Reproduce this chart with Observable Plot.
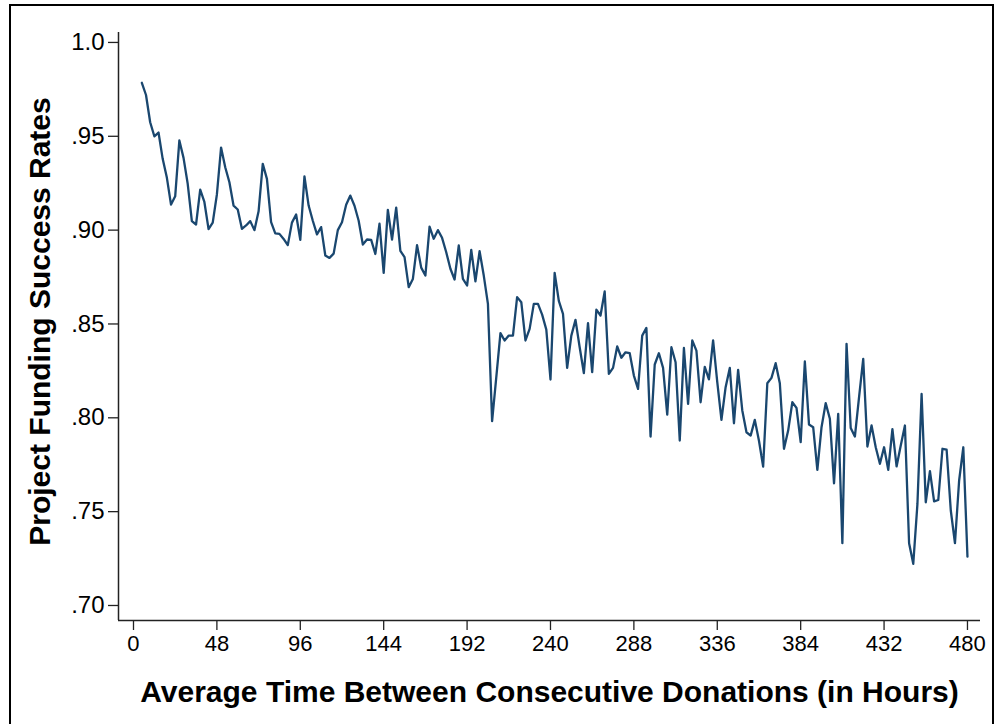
<!DOCTYPE html>
<html>
<head>
<meta charset="utf-8">
<script src="https://cdn.jsdelivr.net/npm/d3@7"></script>
<script src="https://cdn.jsdelivr.net/npm/@observablehq/plot@0.6"></script>
<style>
  html, body { margin: 0; padding: 0; background: #fff; }
  #wrap { position: relative; width: 995px; height: 724px; overflow: hidden; }
  #frame { position: absolute; left: 9px; top: 4px; width: 985px; height: 760px; border: 2px solid #000; box-sizing: border-box; }
  #chart { position: absolute; left: 0; top: 0; }
</style>
</head>
<body>
<div id="wrap"><div id="frame"></div><div id="chart"></div></div>
<script>
const hours = [
  4.8,7.2,9.6,12,14.4,16.8,19.2,21.6,24,
  26.4,28.8,31.2,33.6,36,38.4,40.8,43.2,45.6,48,
  50.4,52.8,55.2,57.6,60,62.4,64.8,67.2,69.6,72,
  74.4,76.8,79.2,81.6,84,86.4,88.8,91.2,93.6,96,
  98.4,100.8,103.2,105.6,108,110.4,112.8,115.2,117.6,120,
  122.4,124.8,127.2,129.6,132,134.4,136.8,139.2,141.6,144,
  146.4,148.8,151.2,153.6,156,158.4,160.8,163.2,165.6,168,
  170.4,172.8,175.2,177.6,180,182.4,184.8,187.2,189.6,192,
  194.4,196.8,199.2,201.6,204,206.4,208.8,211.2,213.6,216,
  218.4,220.8,223.2,225.6,228,230.4,232.8,235.2,237.6,240,
  242.4,244.8,247.2,249.6,252,254.4,256.8,259.2,261.6,264,
  266.4,268.8,271.2,273.6,276,278.4,280.8,283.2,285.6,288,
  290.4,292.8,295.2,297.6,300,302.4,304.8,307.2,309.6,312,
  314.4,316.8,319.2,321.6,324,326.4,328.8,331.2,333.6,336,
  338.4,340.8,343.2,345.6,348,350.4,352.8,355.2,357.6,360,
  362.4,364.8,367.2,369.6,372,374.4,376.8,379.2,381.6,384,
  386.4,388.8,391.2,393.6,396,398.4,400.8,403.2,405.6,408,
  410.4,412.8,415.2,417.6,420,422.4,424.8,427.2,429.6,432,
  434.4,436.8,439.2,441.6,444,446.4,448.8,451.2,453.6,456,
  458.4,460.8,463.2,465.6,468,470.4,472.8,475.2,477.6,480
];
const successRates = [
  0.9785,0.972,0.9575,0.950,0.952,0.938,0.928,0.9136,0.918,
  0.9478,0.9385,0.9247,0.9048,0.903,0.9216,0.915,0.9005,0.904,0.919,
  0.944,0.9335,0.9255,0.913,0.911,0.9007,0.9025,0.9048,0.900,0.910,
  0.9353,0.9273,0.9043,0.8983,0.898,0.8953,0.892,0.904,0.9083,0.8948,
  0.9286,0.9131,0.905,0.8977,0.9016,0.8865,0.8852,0.8875,0.900,0.9042,
  0.9135,0.9184,0.913,0.905,0.8923,0.895,0.8948,0.8873,0.9034,0.8772,
  0.9108,0.895,0.912,0.889,0.8856,0.8696,0.874,0.892,0.880,0.8758,
  0.9019,0.8954,0.900,0.8959,0.8882,0.8794,0.8737,0.8918,0.874,0.8705,
  0.8895,0.8727,0.8888,0.8758,0.8607,0.7982,0.8215,0.8451,0.8412,0.8438,
  0.8438,0.8643,0.8616,0.8412,0.8474,0.8607,0.8607,0.855,0.847,0.8204,
  0.8772,0.8623,0.8554,0.8266,0.8438,0.8522,0.8376,0.8238,0.8504,0.8243,
  0.8576,0.8545,0.8673,0.8234,0.8266,0.838,0.832,0.8349,0.8344,0.8225,
  0.8154,0.8438,0.8479,0.790,0.8284,0.8344,0.8266,0.8017,0.8376,0.8296,
  0.7879,0.8372,0.8074,0.8412,0.8358,0.8083,0.8271,0.8205,0.8413,0.819,
  0.7989,0.8163,0.8266,0.7971,0.8255,0.8039,0.7923,0.7905,0.7989,0.7878,
  0.774,0.8184,0.8213,0.8291,0.8184,0.7835,0.7932,0.8083,0.8053,0.787,
  0.830,0.7964,0.795,0.7723,0.795,0.8078,0.7995,0.7651,0.8021,0.7332,
  0.8394,0.7946,0.790,0.811,0.8314,0.7847,0.7959,0.7843,0.7755,0.7843,
  0.7723,0.794,0.7741,0.7852,0.7959,0.7332,0.7222,0.7541,0.8127,0.755,
  0.7716,0.7555,0.7562,0.7835,0.783,0.7506,0.7332,0.7666,0.7843,0.726
];
const xTicks = [0, 48, 96, 144, 192, 240, 288, 336, 384, 432, 480];
const yTicks = [0.70, 0.75, 0.80, 0.85, 0.90, 0.95, 1.0];
const yTickLabels = [".70", ".75", ".80", ".85", ".90", ".95", "1.0"];
const xTitle = "Average Time Between Consecutive Donations (in Hours)";
const yTitle = "Project Funding Success Rates";

const data = hours.map((h, i) => ({hours: h, rate: successRates[i]}));
const xDomain = [-8.63, 487.5];
const yDomain = [0.692, 1.0053];
const font = "'Liberation Sans', Arial, Helvetica, sans-serif";

const chart = Plot.plot({
  width: 995,
  height: 724,
  marginLeft: 118,
  marginRight: 15,
  marginTop: 32,
  marginBottom: 104,
  style: {fontFamily: font, color: "#000", background: "transparent"},
  x: {domain: xDomain},
  y: {domain: yDomain},
  marks: [
    Plot.axisX({ticks: xTicks, tickSize: 10, tickPadding: 5, fontSize: 22, stroke: "#222", strokeWidth: 1.3, label: null}),
    Plot.axisY({ticks: yTicks, tickFormat: d => yTickLabels[yTicks.indexOf(d)], tickSize: 10, tickPadding: 4, fontSize: 24, stroke: "#222", strokeWidth: 1.3, label: null}),
    Plot.ruleX([xDomain[0]], {stroke: "#222", strokeWidth: 1.5}),
    Plot.ruleY([yDomain[0]], {stroke: "#222", strokeWidth: 1.5}),
    Plot.line(data, {x: "hours", y: "rate", stroke: "#1a476f", strokeWidth: 2.3, strokeLinejoin: "round"}),
    Plot.text([xTitle], {frameAnchor: "bottom", dy: 72, fontSize: 30, fontWeight: "bold", fill: "#000", lineAnchor: "middle", textAnchor: "middle"}),
    Plot.text([yTitle], {frameAnchor: "left", dx: -78, dy: -5, rotate: -90, fontSize: 30, fontWeight: "bold", fill: "#000", lineAnchor: "middle", textAnchor: "middle"})
  ]
});
document.getElementById("chart").appendChild(chart);
</script>
</body>
</html>
